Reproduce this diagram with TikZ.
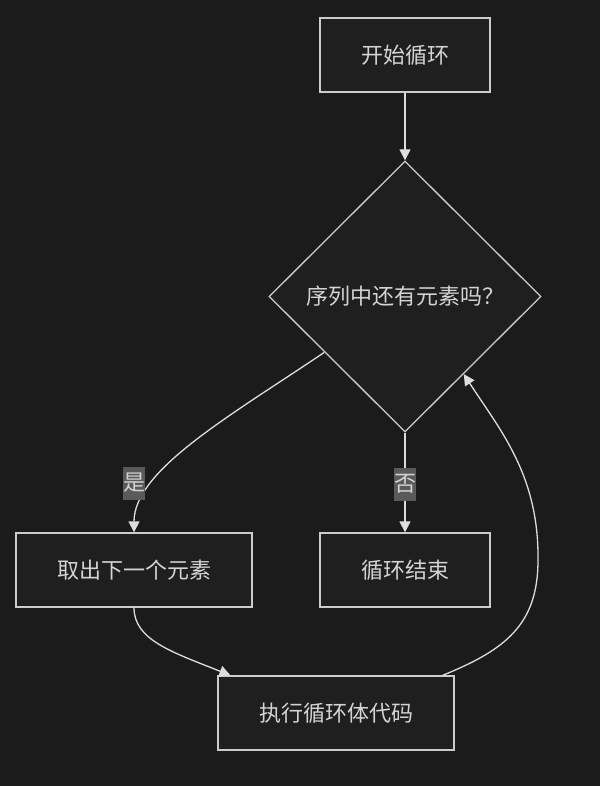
\documentclass[tikz,border=0pt]{standalone}
\usepackage{fontspec}
\setmainfont{Noto Sans CJK SC}
\usetikzlibrary{shapes.geometric,arrows.meta,calc}
\definecolor{bgc}{HTML}{1B1B1B}
\definecolor{nodefill}{HTML}{1F1F1F}
\definecolor{nodeline}{HTML}{CCCCCC}
\definecolor{txt}{HTML}{D4D4D4}
\definecolor{edgec}{HTML}{DDDDDD}
\definecolor{lblbg}{HTML}{5A5A5A}
\begin{document}
\begin{tikzpicture}[x=1pt,y=-1pt,
  font=\fontsize{22}{26}\selectfont,
  box/.style={draw=nodeline, fill=nodefill, line width=1.3pt, text=txt, minimum height=74pt, inner sep=0pt},
  dia/.style={diamond, draw=nodeline, fill=nodefill, line width=1.3pt, text=txt, minimum width=272pt, minimum height=271pt, inner sep=0pt},
  conn/.style={draw=edgec, line width=1.3pt, -{Triangle[length=11pt,width=11pt]}},
  lbl/.style={fill=lblbg, text=txt, inner sep=0pt, minimum width=22pt, minimum height=33pt}]
\fill[bgc] (0,0) rectangle (600,786);
\useasboundingbox (0,0) rectangle (600,786);
\node[box, minimum width=170pt] (start) at (405,55) {开始循环};
\node[dia] (dec) at (405,296.5) {序列中还有元素吗？};
\node[box, minimum width=236pt] (take) at (134,570) {取出下一个元素};
\node[box, minimum width=170pt] (fin) at (405,570) {循环结束};
\node[box, minimum width=236pt] (exec) at (336,713) {执行循环体代码};
\draw[conn] (start) -- (dec);
\draw[conn] ($(dec.west)!0.41!(dec.south)$) .. controls (230,416) and (134,470) .. (take.north);
\draw[conn] (dec.south) -- (fin.north);
\draw[conn] (take.south) .. controls (134,640) and (172,652) .. ($(exec.north west)!0.055!(exec.north east)$);
\draw[conn] ($(exec.north west)!0.949!(exec.north east)$) .. controls (505,650) and (538,625) .. (538,560) .. controls (539,475) and (500,430) .. ($(dec.south)!0.43!(dec.east)$);
\node[lbl] (yes) at (134,483) {是};
\node[lbl] (no) at (405,484) {否};
\end{tikzpicture}
\end{document}
